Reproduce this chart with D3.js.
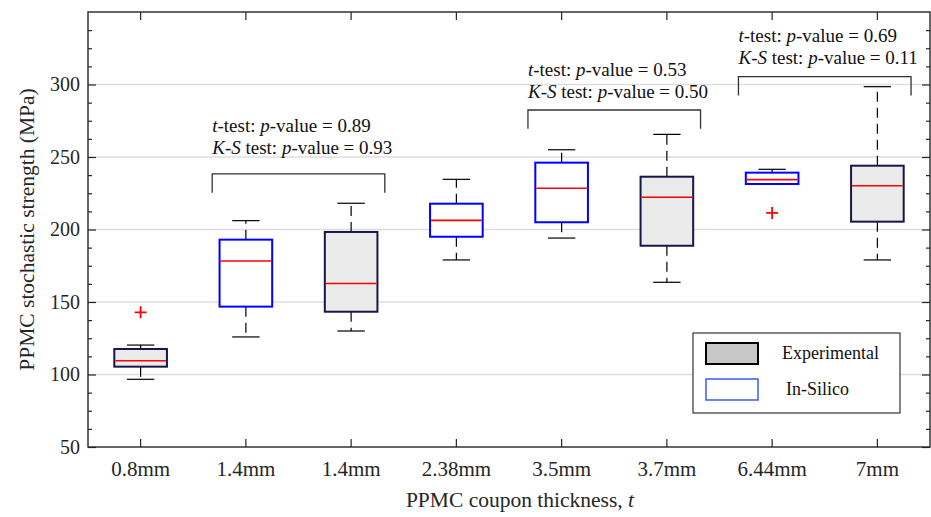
<!DOCTYPE html>
<html>
<head>
<meta charset="utf-8">
<script src="https://cdn.jsdelivr.net/npm/d3@7"></script>
<style>
  body { margin: 0; background: #fff; }
  svg text { font-family: 'Liberation Serif', 'Times New Roman', serif; }
</style>
</head>
<body>
<svg id="chart" width="931" height="517"></svg>
<script>
(function() {
  'use strict';

  // Data.
  var categories  = [ '0.8mm', '1.4mm', '1.4mm', '2.38mm', '3.5mm', '3.7mm', '6.44mm', '7mm' ];
  var groups      = [ 'Experimental', 'In-Silico', 'Experimental', 'In-Silico',
                      'In-Silico', 'Experimental', 'In-Silico', 'Experimental' ];
  var whiskerLow  = [ 96.7, 125.9, 130.0, 179.0, 194.1, 163.6, 231.4, 179.0 ];
  var q1          = [ 105.4, 146.8, 143.3, 195.0, 205.0, 188.8, 231.4, 205.4 ];
  var medians     = [ 109.5, 178.3, 162.8, 206.3, 228.4, 222.2, 234.4, 230.2 ];
  var q3          = [ 117.6, 193.0, 198.3, 217.8, 246.1, 236.4, 239.2, 244.0 ];
  var whiskerHigh = [ 120.3, 206.1, 218.1, 234.6, 255.0, 265.6, 241.5, 298.5 ];
  var outliers    = [ [ 142.9 ], [], [], [], [], [], [ 211.4 ], [] ];

  var yTicks      = [ 50, 100, 150, 200, 250, 300 ];
  var legendItems = [ 'Experimental', 'In-Silico' ];

  // Statistical test annotations: compared pair, p-values, bracket level.
  var testPairs   = [ [ 1, 2 ], [ 4, 5 ], [ 6, 7 ] ];
  var tTestP      = [ '0.89', '0.53', '0.69' ];
  var ksTestP     = [ '0.93', '0.50', '0.11' ];
  var bracketTop  = [ 238.3, 282.4, 305.4 ];
  var labelLevel  = [ 252.1, 290.7, 314.1 ];

  var width  = 931,
      height = 517,
      margin = { top: 12, right: 1, bottom: 70, left: 88 };

  var axisColor = '#262626',
      gridColor = '#dedede',
      red       = '#ff0000';

  var svg = d3.select( '#chart' );

  var x = d3.scaleBand()
    .domain( d3.range( categories.length ) )
    .range( [ margin.left, width - margin.right ] )
    .padding( 0 );

  var y = d3.scaleLinear()
    .domain( [ 50, 350 ] )
    .range( [ height - margin.bottom, margin.top ] );

  var bw      = x.bandwidth(),
      boxW    = bw * 0.5,
      capW    = bw * 0.26;

  function cx( i ) {
    return x( i ) + bw / 2;
  }

  var minorTicks = d3.range( 50, 350.1, 12.5 ).filter(function( v ) {
    return v % 50 !== 0;
  });

  // Grid.
  svg.append( 'g' )
    .selectAll( 'line' )
    .data( yTicks.slice( 1 ) )
    .join( 'line' )
      .attr( 'x1', margin.left )
      .attr( 'x2', width - margin.right )
      .attr( 'y1', y )
      .attr( 'y2', y )
      .style( 'stroke', gridColor )
      .style( 'stroke-width', 1.5 );

  // Boxes.
  var box = svg.append( 'g' )
    .selectAll( 'g' )
    .data( d3.range( categories.length ) )
    .join( 'g' );

  function whisker( from, to ) {
    return function( sel ) {
      sel.attr( 'x1', cx ).attr( 'x2', cx )
        .attr( 'y1', function( i ) { return y( from[ i ] ); } )
        .attr( 'y2', function( i ) { return y( to[ i ] ); } )
        .style( 'stroke', '#000' )
        .style( 'stroke-width', 1.2 )
        .style( 'stroke-dasharray', '10,6' );
    };
  }

  box.append( 'line' ).call( whisker( q3, whiskerHigh ) );
  box.append( 'line' ).call( whisker( q1, whiskerLow ) );

  [ whiskerHigh, whiskerLow ].forEach(function( arr ) {
    box.append( 'line' )
      .attr( 'x1', function( i ) { return cx( i ) - capW / 2; } )
      .attr( 'x2', function( i ) { return cx( i ) + capW / 2; } )
      .attr( 'y1', function( i ) { return y( arr[ i ] ); } )
      .attr( 'y2', function( i ) { return y( arr[ i ] ); } )
      .style( 'stroke', '#000' )
      .style( 'stroke-width', 1.2 );
  });

  box.append( 'rect' )
    .attr( 'x', function( i ) { return cx( i ) - boxW / 2; } )
    .attr( 'width', boxW )
    .attr( 'y', function( i ) { return y( q3[ i ] ); } )
    .attr( 'height', function( i ) { return y( q1[ i ] ) - y( q3[ i ] ); } )
    .style( 'fill', function( i ) { return groups[ i ] === 'Experimental' ? '#ebebeb' : '#fff'; } )
    .style( 'stroke', function( i ) { return groups[ i ] === 'Experimental' ? '#16164a' : '#0000ff'; } )
    .style( 'stroke-width', 2 );

  box.append( 'line' )
    .attr( 'x1', function( i ) { return cx( i ) - boxW / 2 + 1; } )
    .attr( 'x2', function( i ) { return cx( i ) + boxW / 2 - 1; } )
    .attr( 'y1', function( i ) { return y( medians[ i ] ); } )
    .attr( 'y2', function( i ) { return y( medians[ i ] ); } )
    .style( 'stroke', red )
    .style( 'stroke-width', 1.6 );

  // Outliers.
  var pts = [];
  outliers.forEach(function( list, i ) {
    list.forEach(function( v ) { pts.push( { i: i, v: v } ); });
  });

  svg.append( 'g' )
    .selectAll( 'path' )
    .data( pts )
    .join( 'path' )
      .attr( 'd', function( d ) {
        var px = cx( d.i ), py = y( d.v ), s = 6;
        return 'M' + ( px - s ) + ',' + py + 'H' + ( px + s ) +
               'M' + px + ',' + ( py - s ) + 'V' + ( py + s );
      })
      .style( 'stroke', red )
      .style( 'stroke-width', 1.8 )
      .style( 'fill', 'none' );

  // Axes.
  function styleAxis( g ) {
    g.select( '.domain' ).remove();
    g.selectAll( 'line' ).style( 'stroke', axisColor ).style( 'stroke-width', 1.2 );
    g.selectAll( 'text' )
      .style( 'fill', axisColor )
      .style( 'font-size', '20px' );
  }

  var left   = margin.left,
      right  = width - margin.right,
      bottom = height - margin.bottom,
      top    = margin.top;

  svg.append( 'g' )
    .attr( 'transform', 'translate(' + left + ',0)' )
    .call( d3.axisLeft( y ).tickValues( yTicks ).tickSize( -8 ).tickPadding( 8 ) )
    .call( styleAxis );

  svg.append( 'g' )
    .attr( 'transform', 'translate(' + left + ',0)' )
    .call( d3.axisLeft( y ).tickValues( minorTicks ).tickSize( -4 ).tickFormat( '' ) )
    .call( styleAxis );

  svg.append( 'g' )
    .attr( 'transform', 'translate(' + right + ',0)' )
    .call( d3.axisRight( y ).tickValues( yTicks ).tickSize( -8 ).tickFormat( '' ) )
    .call( styleAxis );

  svg.append( 'g' )
    .attr( 'transform', 'translate(' + right + ',0)' )
    .call( d3.axisRight( y ).tickValues( minorTicks ).tickSize( -4 ).tickFormat( '' ) )
    .call( styleAxis );

  svg.append( 'g' )
    .attr( 'transform', 'translate(0,' + bottom + ')' )
    .call( d3.axisBottom( x )
      .tickSize( -8 )
      .tickPadding( 14 )
      .tickFormat(function( i ) { return categories[ i ]; }) )
    .call( styleAxis )
    .selectAll( 'text' )
      .style( 'font-size', '21px' );

  svg.append( 'g' )
    .attr( 'transform', 'translate(0,' + top + ')' )
    .call( d3.axisTop( x ).tickSize( -8 ).tickFormat( '' ) )
    .call( styleAxis );

  svg.append( 'rect' )
    .attr( 'x', left )
    .attr( 'y', top )
    .attr( 'width', right - left )
    .attr( 'height', bottom - top )
    .style( 'fill', 'none' )
    .style( 'stroke', axisColor )
    .style( 'stroke-width', 1.4 );

  // Axis titles.
  svg.append( 'text' )
    .attr( 'transform', 'translate(34,' + ( ( top + bottom ) / 2 ) + ') rotate(-90)' )
    .attr( 'text-anchor', 'middle' )
    .style( 'font-size', '21.5px' )
    .style( 'fill', axisColor )
    .text( 'PPMC stochastic strength (MPa)' );

  var xTitle = svg.append( 'text' )
    .attr( 'x', 520 )
    .attr( 'y', 507 )
    .attr( 'text-anchor', 'middle' )
    .style( 'font-size', '21.5px' )
    .style( 'fill', axisColor );
  xTitle.append( 'tspan' ).text( 'PPMC coupon thickness, ' );
  xTitle.append( 'tspan' ).style( 'font-style', 'italic' ).text( 't' );

  // Test brackets and labels.
  var tick = y( 0 ) - y( 13 );
  var ann = svg.append( 'g' )
    .selectAll( 'g' )
    .data( d3.range( testPairs.length ) )
    .join( 'g' );

  function bx0( k ) { return cx( testPairs[ k ][ 0 ] ) - bw * 0.32; }
  function bx1( k ) { return cx( testPairs[ k ][ 1 ] ) + bw * 0.32; }

  ann.append( 'path' )
    .attr( 'd', function( k ) {
      var yy = y( bracketTop[ k ] );
      return 'M' + bx0( k ) + ',' + ( yy + tick ) + 'V' + yy +
             'H' + bx1( k ) + 'V' + ( yy + tick );
    })
    .style( 'fill', 'none' )
    .style( 'stroke', '#333' )
    .style( 'stroke-width', 1.3 );

  var line1 = ann.append( 'text' )
    .attr( 'x', bx0 )
    .attr( 'y', function( k ) { return y( labelLevel[ k ] ) - 22; } )
    .style( 'font-size', '19px' )
    .style( 'fill', '#111' );
  line1.append( 'tspan' ).style( 'font-style', 'italic' ).text( 't' );
  line1.append( 'tspan' ).text( '-test: ' );
  line1.append( 'tspan' ).style( 'font-style', 'italic' ).text( 'p' );
  line1.append( 'tspan' ).text(function( k ) { return '-value = ' + tTestP[ k ]; });

  var line2 = ann.append( 'text' )
    .attr( 'x', bx0 )
    .attr( 'y', function( k ) { return y( labelLevel[ k ] ); } )
    .style( 'font-size', '19px' )
    .style( 'fill', '#111' );
  line2.append( 'tspan' ).style( 'font-style', 'italic' ).text( 'K' );
  line2.append( 'tspan' ).text( '-' );
  line2.append( 'tspan' ).style( 'font-style', 'italic' ).text( 'S' );
  line2.append( 'tspan' ).text( ' test: ' );
  line2.append( 'tspan' ).style( 'font-style', 'italic' ).text( 'p' );
  line2.append( 'tspan' ).text(function( k ) { return '-value = ' + ksTestP[ k ]; });

  // Legend.
  var legend = svg.append( 'g' ).attr( 'transform', 'translate(693,333)' );

  legend.append( 'rect' )
    .attr( 'width', 207 )
    .attr( 'height', 80 )
    .style( 'fill', '#fff' )
    .style( 'stroke', '#333' )
    .style( 'stroke-width', 1.2 );

  var item = legend.selectAll( 'g' )
    .data( legendItems )
    .join( 'g' )
      .attr( 'transform', function( d, i ) { return 'translate(13,' + ( 10 + i * 36 ) + ')'; } );

  item.append( 'rect' )
    .attr( 'width', 52 )
    .attr( 'height', 21 )
    .style( 'fill', function( d ) { return d === 'Experimental' ? '#c8c8c8' : '#fff'; } )
    .style( 'stroke', function( d ) { return d === 'Experimental' ? '#000' : '#3a5ef0'; } )
    .style( 'stroke-width', function( d ) { return d === 'Experimental' ? 2 : 1.5; } );

  item.append( 'text' )
    .attr( 'x', function( d ) { return d === 'Experimental' ? 76 : 80; } )
    .attr( 'y', 16 )
    .style( 'font-size', '18px' )
    .style( 'fill', '#111' )
    .text(function( d ) { return d; });
})();
</script>
</body>
</html>
